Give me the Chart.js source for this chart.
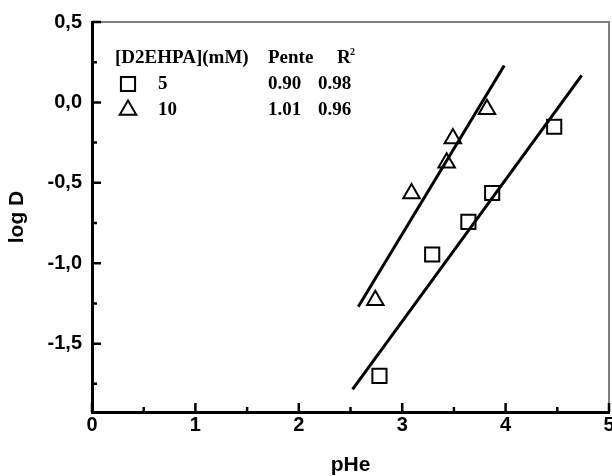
<!DOCTYPE html>
<html>
<head>
<meta charset="utf-8">
<script src="https://cdn.jsdelivr.net/npm/chart.js@4/dist/chart.umd.min.js"></script>
<style>
  html, body { margin: 0; padding: 0; background: #fff; overflow: hidden; }
  #wrap { width: 612px; height: 476px; overflow: hidden; }
</style>
</head>
<body>
<div id="wrap"><canvas id="chart" width="621" height="476"></canvas></div>
<script>
// measured points, [D2EHPA] = 5 mM (squares) and 10 mM (triangles)
const pHe5 = [2.78, 3.29, 3.64, 3.87, 4.47];
const logD5 = [-1.70, -0.946, -0.743, -0.563, -0.151];
const pHe10 = [2.74, 3.09, 3.43, 3.49, 3.82];
const logD10 = [-1.23, -0.566, -0.375, -0.224, -0.042];

// fitted lines (end points)
const fit5X = [2.52, 4.736];
const fit5Y = [-1.785, 0.168];
const fit10X = [2.575, 3.987];
const fit10Y = [-1.271, 0.230];

// axis ticks
const xMajor = [0, 1, 2, 3, 4, 5];
const xMinor = [0.5, 1.5, 2.5, 3.5, 4.5];
const yMajor = [-1.5, -1.0, -0.5, 0.0, 0.5];
const yMinor = [-1.75, -1.25, -0.75, -0.25, 0.25];

// legend table
const legendHeader = ['[D2EHPA](mM)', 'Pente', 'R'];
const legendConc = ['5', '10'];
const legendSlope = ['0.90', '1.01'];
const legendR2 = ['0.98', '0.96'];
const legendStyles = ['rect', 'triangle'];

function toPoints(xs, ys) {
    return xs.map((x, i) => ({ x: x, y: ys[i] }));
}

const serif = '"Liberation Serif", "Times New Roman", serif';
const sans = '"Liberation Sans", Arial, sans-serif';

const framePlugin = {
    id: 'frame',
    afterDraw(chart) {
        const ctx = chart.ctx;
        const a = chart.chartArea;
        const xs = chart.scales.x, ys = chart.scales.y;
        ctx.save();
        // thin top and right frame
        ctx.strokeStyle = '#808080';
        ctx.lineWidth = 2;
        ctx.beginPath();
        ctx.moveTo(a.left, a.top);
        ctx.lineTo(a.right, a.top);
        ctx.lineTo(a.right, a.bottom);
        ctx.stroke();

        // inward ticks
        ctx.strokeStyle = '#000';
        ctx.lineWidth = 2.5;
        ctx.beginPath();
        xMajor.forEach(v => { const p = xs.getPixelForValue(v); ctx.moveTo(p, a.bottom); ctx.lineTo(p, a.bottom - 9); });
        xMinor.forEach(v => { const p = xs.getPixelForValue(v); ctx.moveTo(p, a.bottom); ctx.lineTo(p, a.bottom - 5); });
        yMajor.forEach(v => { const p = ys.getPixelForValue(v); ctx.moveTo(a.left, p); ctx.lineTo(a.left + 9, p); });
        yMinor.forEach(v => { const p = ys.getPixelForValue(v); ctx.moveTo(a.left, p); ctx.lineTo(a.left + 5, p); });
        ctx.stroke();

        // legend table
        const rowsY = [58, 84, 110];
        ctx.fillStyle = '#000';
        ctx.font = 'bold 19px ' + serif;
        ctx.textBaseline = 'middle';
        ctx.textAlign = 'left';
        ctx.fillText(legendHeader[0], 115, rowsY[0]);
        ctx.fillText(legendHeader[1], 268, rowsY[0]);
        ctx.fillText(legendHeader[2], 337, rowsY[0]);
        ctx.font = 'bold 10px ' + serif;
        ctx.fillText('2', 350, rowsY[0] - 6);
        ctx.font = 'bold 19px ' + serif;
        for (let i = 0; i < legendConc.length; i++) {
            const y = rowsY[i + 1];
            ctx.save();
            ctx.fillStyle = 'rgba(0,0,0,0)';
            ctx.strokeStyle = '#000';
            ctx.lineWidth = 2;
            Chart.helpers.drawPoint(ctx, {
                pointStyle: legendStyles[i],
                radius: legendStyles[i] === 'rect' ? 10 : 9.5,
                borderWidth: 2
            }, 128, y);
            ctx.restore();
            ctx.fillText(legendConc[i], 158, y);
            ctx.fillText(legendSlope[i], 268, y);
            ctx.fillText(legendR2[i], 318, y);
        }
        ctx.restore();
    }
};

const ctx = document.getElementById('chart').getContext('2d');
new Chart(ctx, {
    type: 'scatter',
    data: {
        datasets: [
            {
                label: 'fit 5',
                data: toPoints(fit5X, fit5Y),
                showLine: true,
                borderColor: '#000',
                borderWidth: 3,
                pointRadius: 0
            },
            {
                label: 'fit 10',
                data: toPoints(fit10X, fit10Y),
                showLine: true,
                borderColor: '#000',
                borderWidth: 3,
                pointRadius: 0
            },
            {
                label: '5',
                data: toPoints(pHe5, logD5),
                pointStyle: 'rect',
                pointRadius: 10,
                borderColor: '#000',
                borderWidth: 2,
                backgroundColor: 'transparent'
            },
            {
                label: '10',
                data: toPoints(pHe10, logD10),
                pointStyle: 'triangle',
                pointRadius: 9.5,
                borderColor: '#000',
                borderWidth: 2,
                backgroundColor: 'transparent'
            }
        ]
    },
    options: {
        responsive: false,
        animation: false,
        layout: { padding: { left: 0, top: 22, right: 3, bottom: 0 } },
        plugins: {
            legend: { display: false },
            tooltip: { enabled: false }
        },
        scales: {
            x: {
                type: 'linear',
                min: 0,
                max: 5,
                afterBuildTicks: scale => { scale.ticks = xMajor.map(v => ({ value: v })); },
                afterFit: scale => { scale.height = 64; },
                grid: { display: false, drawTicks: false },
                border: { display: true, color: '#000', width: 3 },
                ticks: {
                    color: '#000',
                    padding: 1,
                    maxRotation: 0,
                    font: { family: sans, size: 20, weight: 'bold' },
                    callback: v => String(v)
                },
                title: {
                    display: true,
                    text: 'pHe',
                    color: '#000',
                    padding: { top: 0, bottom: 0 },
                    font: { family: sans, size: 21, weight: 'bold', lineHeight: 1.0 }
                }
            },
            y: {
                type: 'linear',
                min: -1.925,
                max: 0.5,
                afterBuildTicks: scale => { scale.ticks = yMajor.map(v => ({ value: v })); },
                afterFit: scale => { scale.width = 92; },
                grid: { display: false, drawTicks: false },
                border: { display: true, color: '#000', width: 3 },
                ticks: {
                    color: '#000',
                    padding: 10,
                    font: { family: sans, size: 20, weight: 'bold' },
                    callback: v => v.toFixed(1).replace('.', ',')
                },
                title: {
                    display: true,
                    text: 'log D',
                    color: '#000',
                    padding: { top: 5, bottom: 0 },
                    font: { family: sans, size: 21, weight: 'bold', lineHeight: 1.2 }
                }
            }
        }
    },
    plugins: [framePlugin]
});
</script>
</body>
</html>
